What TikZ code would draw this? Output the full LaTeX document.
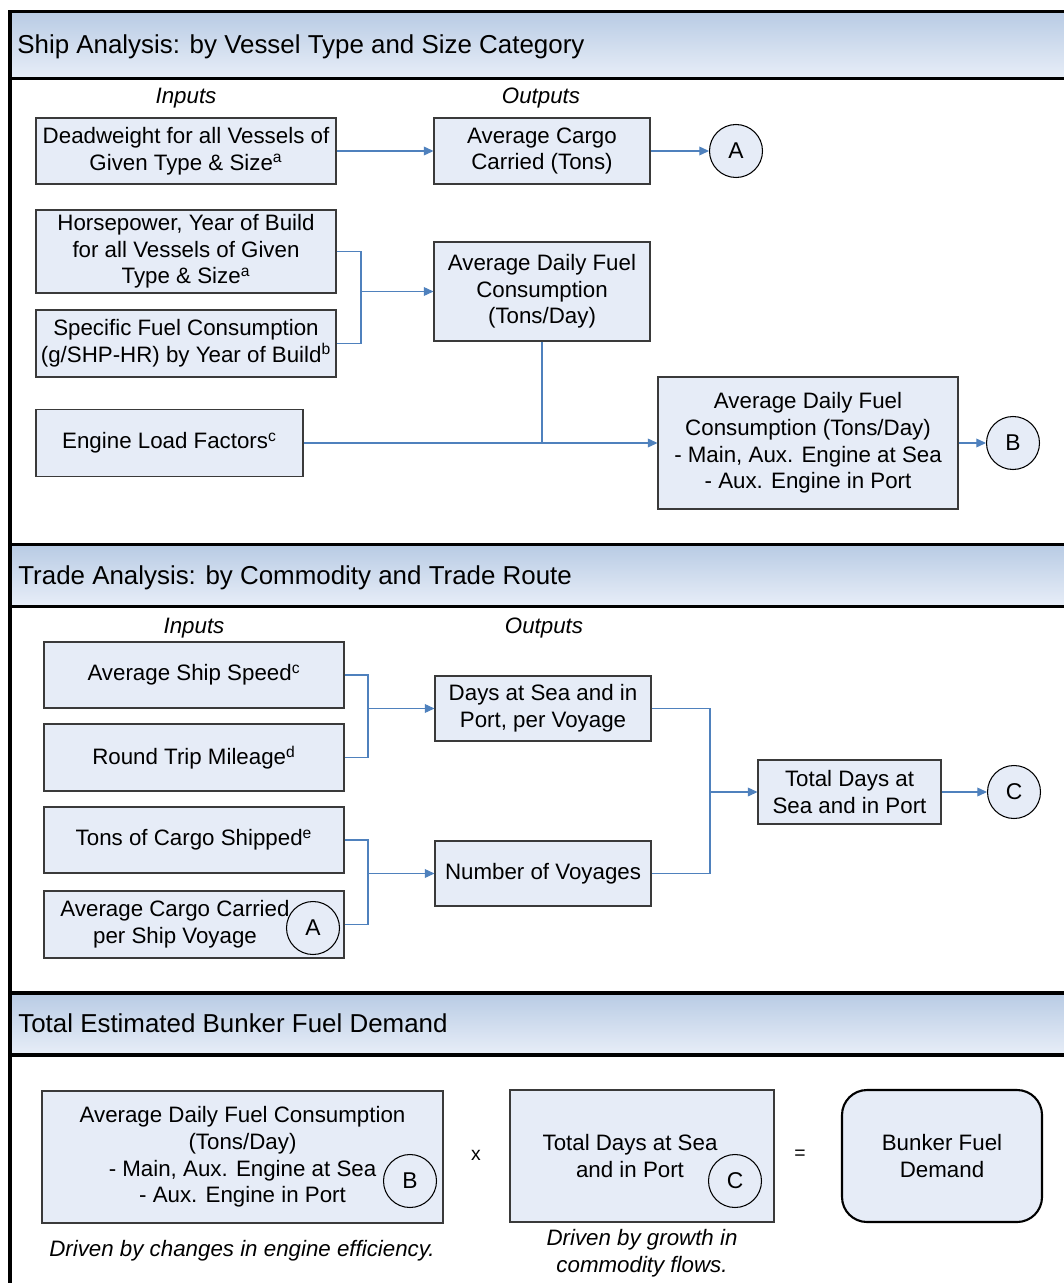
\documentclass[tikz,border=0pt]{standalone}
\usepackage{fontspec}
\setmainfont{Liberation Sans}
\usetikzlibrary{arrows.meta,calc}
\newdimen\upx \upx=0.02cm
\definecolor{boxfill}{HTML}{E6ECF7}
\definecolor{boxline}{HTML}{3A3A3A}
\definecolor{conncol}{HTML}{4F81BD}
\definecolor{headtop}{HTML}{B8CBE4}
\definecolor{headbot}{HTML}{E8EEF8}
\tikzset{
  txt/.style={font=\fontsize{12.7}{15.2}\selectfont, align=center, inner sep=0pt},
  box/.style={txt, draw=boxline, line width=0.6pt, fill=boxfill},
  circ/.style={circle, draw=black, line width=0.6pt, fill=boxfill, minimum size=53\upx, inner sep=0pt, font=\fontsize{13}{15}\selectfont},
  circo/.style={circle, draw=black, line width=0.6pt, minimum size=53\upx, inner sep=0pt, font=\fontsize{13}{15}\selectfont},
  conn/.style={draw=conncol, line width=0.6pt},
  arr/.style={conn, -{Triangle[length=5.5pt,width=5pt]}},
  headtxt/.style={anchor=west, inner sep=0pt, font=\fontsize{14.75}{17}\selectfont},
  ital/.style={txt, font=\fontsize{12.7}{15.2}\selectfont\itshape},
  frame/.style={line width=2pt, draw=black},
}
\newcommand{\supx}[1]{\textsuperscript{#1}}
\begin{document}
\begin{tikzpicture}[x=0.02cm,y=-0.02cm]
\useasboundingbox (0,0) rectangle (1063,1283);
% ---------- frame and headers ----------
\shade[top color=headtop, bottom color=headbot] (10,11.5) rectangle (1070,78.5);
\shade[top color=headtop, bottom color=headbot] (10,544.5) rectangle (1070,606.5);
\shade[top color=headtop, bottom color=headbot] (10,993) rectangle (1070,1055);
\draw[frame] (10,11.5) -- (1070,11.5);
\draw[frame] (10,78.5) -- (1070,78.5);
\draw[frame] (10,544.5) -- (1070,544.5);
\draw[frame] (10,606.5) -- (1070,606.5);
\draw[frame] (10,993) -- (1070,993);
\draw[frame] (10,1055) -- (1070,1055);
\draw[frame] (10,10.5) -- (10,1290);
\node[headtxt] (h1) at (17,46.5) {Ship Analysis: by Vessel Type and Size Category};
\node[headtxt] (h2) at (18,577.5) {Trade Analysis: by Commodity and Trade Route};
\node[headtxt] (h3) at (18,1023) {Total Estimated Bunker Fuel Demand};
% ---------- section 1 ----------
\node[ital] (in1) at (186,98) {Inputs};
\node[ital] (out1) at (541,98) {Outputs};
\node[box, minimum width=300\upx, minimum height=66\upx] (d1) at (186,151) {Deadweight for all Vessels of\\Given Type \& Size\supx{a}};
\node[box, minimum width=216\upx, minimum height=66\upx] (o1) at (542,151) {Average Cargo\\Carried (Tons)};
\node[circ] (cA1) at (736,151) {A};
\node[box, minimum width=300\upx, minimum height=83\upx] (hp) at (186,251.5) {Horsepower, Year of Build\\for all Vessels of Given\\Type \& Size\supx{a}};
\node[box, minimum width=300\upx, minimum height=67\upx] (sfc) at (186,343.5) {Specific Fuel Consumption\\(g/SHP-HR) by Year of Build\supx{b}};
\node[box, minimum width=267\upx, minimum height=67\upx] (elf) at (169.5,443) {Engine Load Factors\supx{c}};
\node[box, minimum width=216\upx, minimum height=99\upx] (adf1) at (542,291.5) {Average Daily Fuel\\Consumption\\(Tons/Day)};
\node[box, minimum width=300\upx, minimum height=132\upx] (adf2) at (808,443) {Average Daily Fuel\\Consumption (Tons/Day)\\- Main, Aux. Engine at Sea\\- Aux. Engine in Port};
\node[circ] (cB1) at (1013,443) {B};
\coordinate (j1) at (361,291.5);
\draw[arr] (d1.east) -- (o1.west);
\draw[arr] (o1.east) -- (cA1.west);
\draw[conn] (hp.east) -| (j1) |- (sfc.east);
\draw[arr] (j1) -- (adf1.west);
\draw[arr] (elf.east) -- (adf2.west);
\draw[conn] (adf1.south) -- (adf1.south |- adf2.west);
\draw[arr] (adf2.east) -- (cB1.west);
% ---------- section 2 ----------
\node[ital] (in2) at (194,628) {Inputs};
\node[ital] (out2) at (544,628) {Outputs};
\node[box, minimum width=300\upx, minimum height=66\upx] (ass) at (194,675) {Average Ship Speed\supx{c}};
\node[box, minimum width=300\upx, minimum height=67\upx] (rtm) at (194,757.5) {Round Trip Mileage\supx{d}};
\node[box, minimum width=300\upx, minimum height=66\upx] (tcs) at (194,840) {Tons of Cargo Shipped\supx{e}};
\node[box, minimum width=300\upx, minimum height=67\upx] (acc) at (194,924.5) {};
\node[txt] (acct) at (175,924) {Average Cargo Carried\\per Ship Voyage};
\node[circo] (cA2) at (313,928) {A};
\node[box, minimum width=216\upx, minimum height=65\upx] (days) at (543,708.5) {Days at Sea and in\\Port, per Voyage};
\node[box, minimum width=216\upx, minimum height=65\upx] (nv) at (543,873.5) {Number of Voyages};
\node[box, minimum width=183\upx, minimum height=64\upx] (tot) at (849.5,792) {Total Days at\\Sea and in Port};
\node[circ] (cC1) at (1014,792) {C};
\coordinate (j2) at (368,708.5);
\coordinate (j3) at (368,873.5);
\coordinate (j4) at (710,792);
\draw[conn] (ass.east) -| (j2) |- (rtm.east);
\draw[arr] (j2) -- (days.west);
\draw[conn] (tcs.east) -| (j3) |- (acc.east);
\draw[arr] (j3) -- (nv.west);
\draw[conn] (days.east) -| (j4) |- (nv.east);
\draw[arr] (j4) -- (tot.west);
\draw[arr] (tot.east) -- (cC1.west);
% ---------- section 3 ----------
\node[box, minimum width=401\upx, minimum height=132\upx] (fc) at (242.5,1157) {Average Daily Fuel Consumption\\(Tons/Day)\\- Main, Aux. Engine at Sea\\- Aux. Engine in Port};
\node[circo] (cB2) at (410,1181) {B};
\node[box, minimum width=264\upx, minimum height=132\upx] (td) at (642,1156) {};
\node[txt] (tdt) at (630,1156) {Total Days at Sea\\and in Port};
\node[circo] (cC2) at (735,1181) {C};
\node[txt, font=\fontsize{11}{13}\selectfont] (times) at (476,1155) {x};
\node[txt, font=\fontsize{11}{13}\selectfont] (eq) at (800,1155) {=};
\node[box, draw=black, line width=1.2pt, rounded corners=25\upx, minimum width=200\upx, minimum height=132\upx] (bfd) at (942,1156) {Bunker Fuel\\Demand};
\node[ital] (cap1) at (242,1251) {Driven by changes in engine efficiency.};
\node[ital] (cap2) at (642,1253) {Driven by growth in\\commodity flows.};
\end{tikzpicture}
\end{document}
